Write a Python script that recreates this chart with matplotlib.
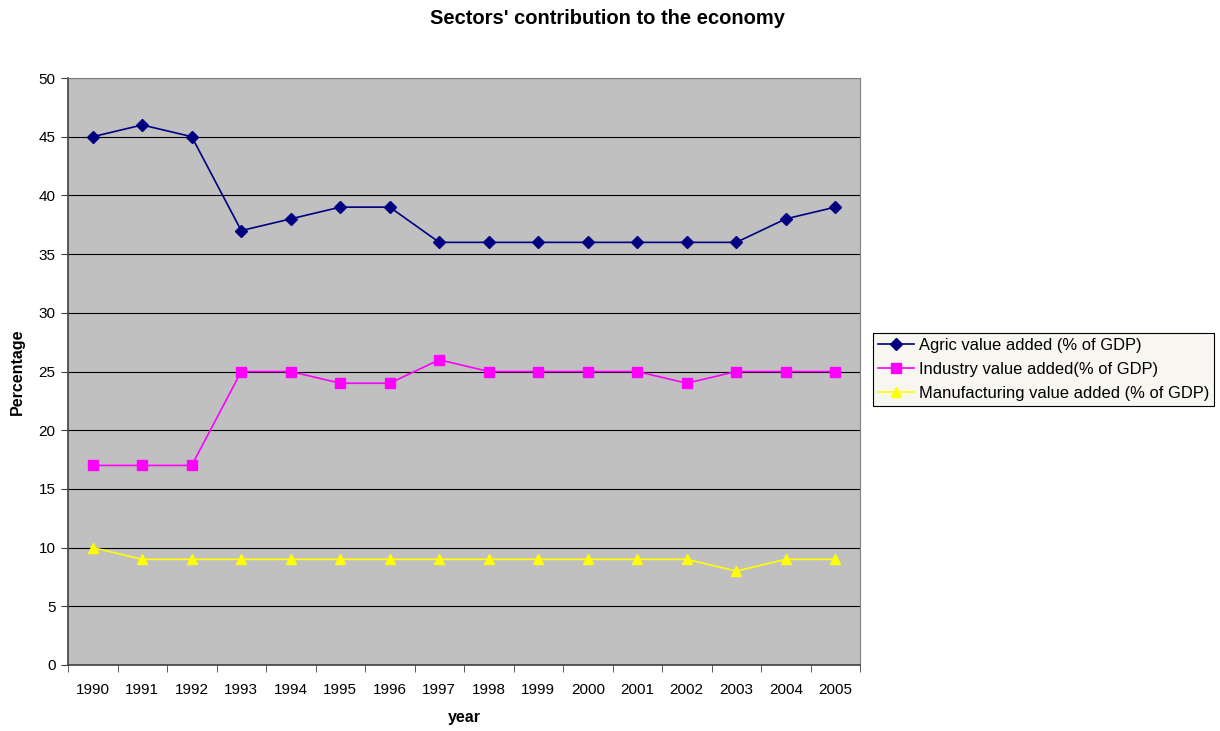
import matplotlib
matplotlib.use("Agg")
import matplotlib.pyplot as plt
import numpy as np

years = ["1990", "1991", "1992", "1993", "1994", "1995", "1996", "1997",
         "1998", "1999", "2000", "2001", "2002", "2003", "2004", "2005"]
agric = [45, 46, 45, 37, 38, 39, 39, 36, 36, 36, 36, 36, 36, 36, 38, 39]
industry = [17, 17, 17, 25, 25, 24, 24, 26, 25, 25, 25, 25, 24, 25, 25, 25]
manufacturing = [10, 9, 9, 9, 9, 9, 9, 9, 9, 9, 9, 9, 9, 8, 9, 9]

plt.rcParams['font.family'] = ['Liberation Sans', 'DejaVu Sans']

fig = plt.figure(figsize=(12.2, 7.31), dpi=100)
ax = fig.add_axes([68/1220, 1-665/731, (860-68)/1220, (665-78)/731])
ax.set_facecolor('#C0C0C0')

x = np.arange(len(years))
ax.plot(x, agric, color='#000080', marker='D', markersize=6, lw=1.2,
        label='Agric value added (% of GDP)')
ax.plot(x, industry, color='#FF00FF', marker='s', markersize=6.5, lw=1.2,
        label='Industry value added(% of GDP)')
ax.plot(x, manufacturing, color='#FFFF00', marker='^', markersize=7.5, lw=1.2,
        label='Manufacturing value added (% of GDP)')

ax.set_xlim(-0.5, len(years) - 0.5)
ax.set_ylim(0, 50)
ax.set_yticks(np.arange(0, 51, 5))
ax.yaxis.grid(True, color='black', lw=0.8)
ax.set_axisbelow(True)

ax.set_xticks(x)
ax.set_xticklabels(years)
ax.set_xticks(np.arange(-0.5, len(years), 1.0), minor=True)
ax.tick_params(axis='x', which='major', length=0, pad=13, labelsize=11)
ax.tick_params(axis='x', which='minor', length=5, color='#404040')
ax.tick_params(axis='y', length=5, color='#404040', labelsize=11, pad=4)

for s in ['top', 'right']:
    ax.spines[s].set_color('#808080')
for s in ['left', 'bottom']:
    ax.spines[s].set_color('#404040')
    ax.spines[s].set_linewidth(1.2)

ax.set_ylabel('Percentage', fontweight='bold', fontsize=11.5, labelpad=10)
ax.set_xlabel('year', fontweight='bold', fontsize=11.5, labelpad=9)
fig.text(608/1220, 1-19/731, "Sectors' contribution to the economy",
         ha='center', va='center', fontweight='bold', fontsize=14.5)

leg = ax.legend(loc='upper left', bbox_to_anchor=(873/1220, 1-333/731),
                bbox_transform=fig.transFigure, frameon=True, fancybox=False,
                fontsize=11.9, handlelength=2.2, borderpad=0.3, labelspacing=0.55,
                handletextpad=0.3, borderaxespad=0)
leg.get_frame().set_facecolor('#F8F6F0')
leg.get_frame().set_edgecolor('black')
leg.get_frame().set_alpha(1)
leg.get_frame().set_linewidth(0.8)

fig.savefig('out.png', dpi=100, facecolor='white')
